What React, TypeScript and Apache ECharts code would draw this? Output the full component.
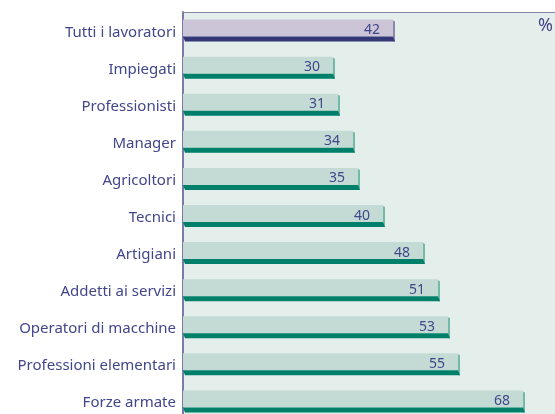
import React, { useEffect, useRef } from "react";
import * as echarts from "echarts";

const categories = [
  "Tutti i lavoratori",
  "Impiegati",
  "Professionisti",
  "Manager",
  "Agricoltori",
  "Tecnici",
  "Artigiani",
  "Addetti ai servizi",
  "Operatori di macchine",
  "Professioni elementari",
  "Forze armate",
];
const values = [42, 30, 31, 34, 35, 40, 48, 51, 53, 55, 68];
const unit = "%";

export default function App() {
  const ref = useRef<HTMLDivElement>(null);
  useEffect(() => {
    if (!ref.current) return;
    const chart = echarts.init(ref.current, undefined, { renderer: "svg" });
    const textColor = "#42468a";
    chart.setOption({
      animation: false,
      grid: {
        left: 183,
        top: 12,
        right: 0,
        bottom: 0,
        show: true,
        backgroundColor: "#e4eeea",
        borderWidth: 0,
      },
      xAxis: {
        type: "value",
        position: "top",
        min: 0,
        max: 74.4,
        axisLine: { show: true, lineStyle: { color: "#8a8aa8", width: 1 } },
        axisTick: { show: false },
        axisLabel: { show: false },
        splitLine: { show: false },
      },
      yAxis: {
        type: "category",
        inverse: true,
        data: categories,
        axisLine: { show: true, lineStyle: { color: "#7c7aa8", width: 2 } },
        axisTick: { show: false },
        axisLabel: {
          color: textColor,
          fontFamily: "Noto Sans",
          fontSize: 15,
          margin: 7,
        },
      },
      graphic: [
        {
          type: "text",
          left: 538,
          top: 15,
          style: { text: unit, fill: textColor, fontSize: 18, fontFamily: "Noto Sans" },
        },
      ],
      series: [
        {
          type: "custom",
          data: values.map((v, i) => [v, i]),
          encode: { x: 0, y: 1 },
          renderItem: (params: any, api: any) => {
            const v = api.value(0);
            const i = api.value(1);
            const p0 = api.coord([0, i]);
            const p1 = api.coord([v, i]);
            const cy = p0[1];
            const x0 = p0[0];
            const x1 = p1[0];
            const first = i === 0;
            const fill = first ? "#cbc5d7" : "#c3dbd4";
            const dark = first ? "#343878" : "#00806b";
            const side = first ? "#8b86aa" : "#72b9a8";
            const top = cy - 11;
            return {
              type: "group",
              children: [
                {
                  type: "rect",
                  shape: { x: x0, y: top, width: x1 - x0, height: 17 },
                  style: { fill },
                },
                {
                  type: "polygon",
                  shape: {
                    points: [
                      [x1, top + 1],
                      [x1 + 2, top + 2],
                      [x1 + 2, cy + 11],
                      [x1, cy + 11],
                    ],
                  },
                  style: { fill: side },
                },
                {
                  type: "polygon",
                  shape: {
                    points: [
                      [x0, cy + 6],
                      [x1, cy + 6],
                      [x1 + 2, cy + 11],
                      [x0 + 2, cy + 11],
                    ],
                  },
                  style: { fill: dark },
                },
                {
                  type: "text",
                  style: {
                    text: String(v),
                    x: x1 - 13,
                    y: cy - 2,
                    align: "right",
                    verticalAlign: "middle",
                    fill: textColor,
                    fontSize: 14,
                    fontFamily: "Noto Sans",
                  },
                },
              ],
            };
          },
        },
      ],
    });
    return () => chart.dispose();
  }, []);
  return <div ref={ref} style={{ width: 555, height: 420, position: "fixed", left: 0, top: 0 }} />;
}
